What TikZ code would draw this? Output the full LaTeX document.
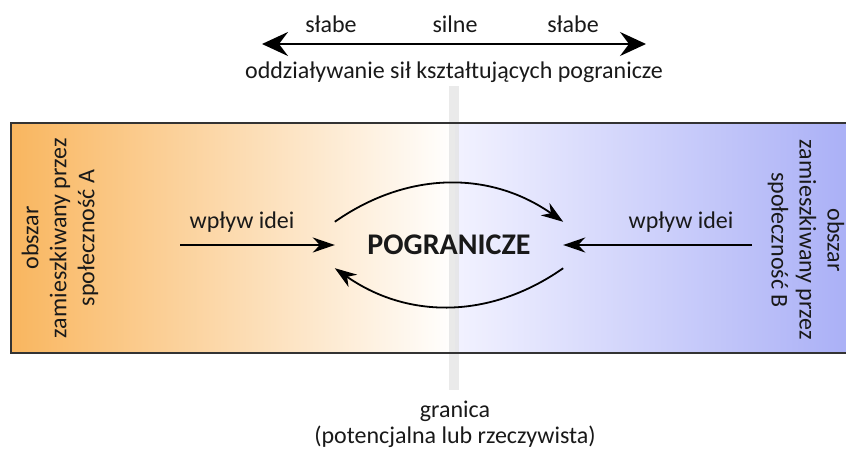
\documentclass[tikz,border=0pt]{standalone}
\usepackage{fontspec}
\setmainfont{Carlito}
\usetikzlibrary{arrows.meta}
\definecolor{sideA}{RGB}{249,182,95}
\definecolor{sideB}{RGB}{168,174,246}
\definecolor{midB}{RGB}{242,242,255}
\definecolor{band}{RGB}{225,225,225}
\begin{document}
\begin{tikzpicture}[x=1pt,y=-1pt,
  txt/.style={font=\fontsize{24}{28}\selectfont, text=black!90, inner sep=0pt},
  side/.style={txt, align=center},
  flow/.style={line width=1.8pt, -{Stealth[length=22pt,width=15pt,inset=7pt]}}]
  \useasboundingbox (0,0) rectangle (846,450);

  % area and border
  \fill[left color=sideA, right color=white] (11,123) rectangle (455,353);
  \fill[left color=midB, right color=sideB] (455,123) rectangle (860,353);
  \fill[band, opacity=0.7] (449,86) rectangle (459,390);
  \draw[line width=2pt, black!80] (11,123) rectangle (860,353);

  % scale of forces
  \node[txt] (s1) at (331,24) {słabe};
  \node[txt] (s2) at (455,24) {silne};
  \node[txt] (s3) at (573,24) {słabe};
  \coordinate (sL) at (262,44);
  \coordinate (sR) at (646,44);
  \draw[line width=2.6pt, {Stealth[length=26pt,width=24pt,inset=9pt]}-{Stealth[length=26pt,width=24pt,inset=9pt]}] (sL) -- (sR);
  \node[txt] (sil) at (454,72) {oddziaływanie sił kształtujących pogranicze};

  % sides
  \node[side, rotate=90] (A) at (60,238) {obszar\\zamieszkiwany przez\\społeczność A};
  \node[side, rotate=-90] (B) at (806,240) {obszar\\zamieszkiwany przez\\społeczność B};

  % centre
  \node[font=\fontsize{30}{34}\selectfont\bfseries, text=black!90, minimum width=228pt, minimum height=46pt, inner sep=0pt] (P) at (449,245) {POGRANICZE};
  \node[txt] (wA) at (242,222) {wpływ idei};
  \node[txt] (wB) at (681,222) {wpływ idei};
  \coordinate (eA) at (180,245);
  \coordinate (eB) at (752,245);
  \draw[flow] (eA) -- (P.west);
  \draw[flow] (eB) -- (P.east);
  \draw[flow] (P.north west) to[out=35,in=145] (P.north east);
  \draw[flow] (P.south east) to[out=-145,in=-35] (P.south west);

  % border line
  \node[txt] (g) at (455,411) {granica};
  \node[txt] (g2) at (455,437) {(potencjalna lub rzeczywista)};

\end{tikzpicture}
\end{document}
